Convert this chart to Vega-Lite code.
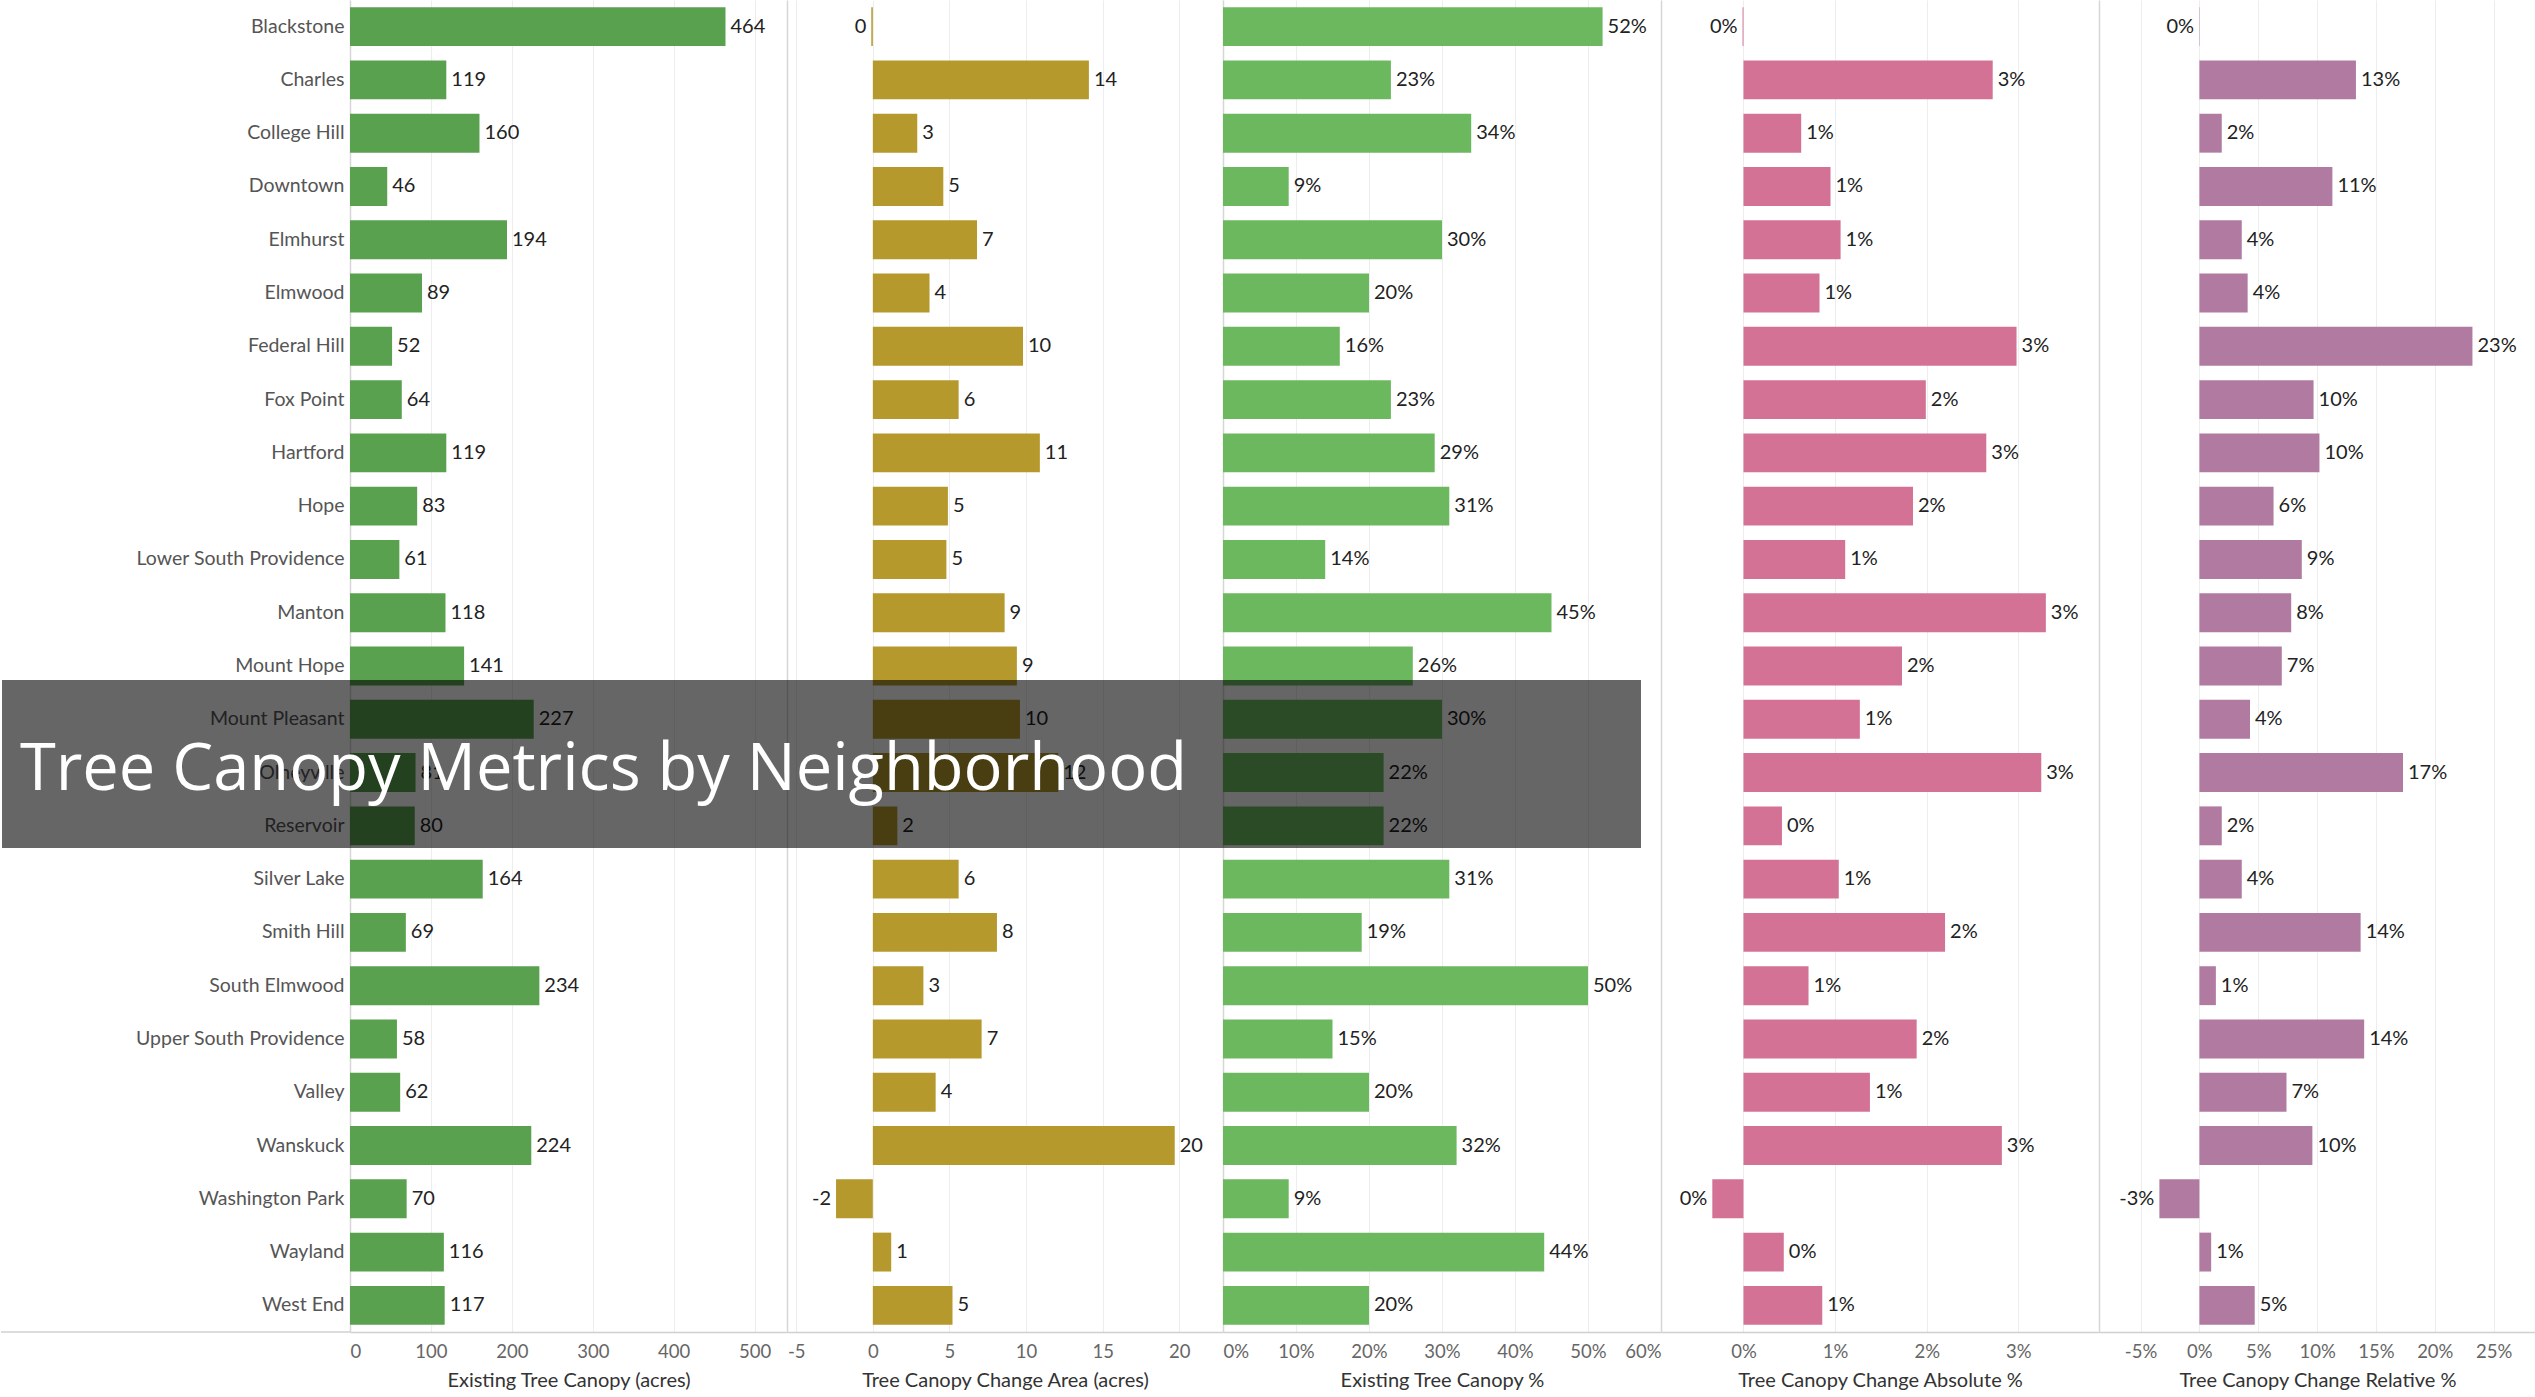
{
  "$schema": "https://vega.github.io/schema/vega-lite/v6.json",
  "background": "white",
  "padding": 0,
  "autosize": {"type": "pad"},
  "bounds": "flush",
  "spacing": 0,
  "config": {
    "view": {"stroke": null},
    "font": "Lato",
    "locale": {"number": {"decimal": ".", "thousands": ",", "grouping": [3], "currency": ["$", ""], "minus": "-"}},
    "axisX": {"orient": "bottom", "grid": true, "gridColor": "#ededed", "gridWidth": 1, "domain": true, "domainColor": "#d0d0d0", "domainWidth": 1.5, "ticks": false, "labelFont": "Lato", "labelFontSize": 18.5, "labelColor": "#666666", "labelPadding": 10, "labelFlush": true, "titleFont": "Lato", "titleFontSize": 20, "titleFontWeight": "normal", "titleColor": "#333333", "titlePadding": 10},
    "axisY": {"grid": false, "ticks": false, "domain": true, "domainColor": "#d6d6d6", "domainWidth": 1.5, "title": null}
  },
  "datasets": {
    "hoods": [
      {"name": "Blackstone", "existing": 464, "changeArea": -0.1, "existingPct": 0.52, "changeAbs": -0.0001, "changeRel": -0.0003},
      {"name": "Charles", "existing": 119, "changeArea": 14.1, "existingPct": 0.23, "changeAbs": 0.0272, "changeRel": 0.133},
      {"name": "College Hill", "existing": 160, "changeArea": 2.9, "existingPct": 0.34, "changeAbs": 0.0063, "changeRel": 0.019},
      {"name": "Downtown", "existing": 46, "changeArea": 4.6, "existingPct": 0.09, "changeAbs": 0.0095, "changeRel": 0.113},
      {"name": "Elmhurst", "existing": 194, "changeArea": 6.8, "existingPct": 0.30, "changeAbs": 0.0106, "changeRel": 0.036},
      {"name": "Elmwood", "existing": 89, "changeArea": 3.7, "existingPct": 0.20, "changeAbs": 0.0083, "changeRel": 0.041},
      {"name": "Federal Hill", "existing": 52, "changeArea": 9.8, "existingPct": 0.16, "changeAbs": 0.0298, "changeRel": 0.232},
      {"name": "Fox Point", "existing": 64, "changeArea": 5.6, "existingPct": 0.23, "changeAbs": 0.0199, "changeRel": 0.097},
      {"name": "Hartford", "existing": 119, "changeArea": 10.9, "existingPct": 0.29, "changeAbs": 0.0265, "changeRel": 0.102},
      {"name": "Hope", "existing": 83, "changeArea": 4.9, "existingPct": 0.31, "changeAbs": 0.0185, "changeRel": 0.063},
      {"name": "Lower South Providence", "existing": 61, "changeArea": 4.8, "existingPct": 0.14, "changeAbs": 0.0111, "changeRel": 0.087},
      {"name": "Manton", "existing": 118, "changeArea": 8.6, "existingPct": 0.45, "changeAbs": 0.0330, "changeRel": 0.078},
      {"name": "Mount Hope", "existing": 141, "changeArea": 9.4, "existingPct": 0.26, "changeAbs": 0.0173, "changeRel": 0.070},
      {"name": "Mount Pleasant", "existing": 227, "changeArea": 9.6, "existingPct": 0.30, "changeAbs": 0.0127, "changeRel": 0.043},
      {"name": "Olneyville", "existing": 81, "changeArea": 12.1, "existingPct": 0.22, "changeAbs": 0.0325, "changeRel": 0.173},
      {"name": "Reservoir", "existing": 80, "changeArea": 1.6, "existingPct": 0.22, "changeAbs": 0.0042, "changeRel": 0.019},
      {"name": "Silver Lake", "existing": 164, "changeArea": 5.6, "existingPct": 0.31, "changeAbs": 0.0104, "changeRel": 0.036},
      {"name": "Smith Hill", "existing": 69, "changeArea": 8.1, "existingPct": 0.19, "changeAbs": 0.0220, "changeRel": 0.137},
      {"name": "South Elmwood", "existing": 234, "changeArea": 3.3, "existingPct": 0.50, "changeAbs": 0.0071, "changeRel": 0.014},
      {"name": "Upper South Providence", "existing": 58, "changeArea": 7.1, "existingPct": 0.15, "changeAbs": 0.0189, "changeRel": 0.140},
      {"name": "Valley", "existing": 62, "changeArea": 4.1, "existingPct": 0.20, "changeAbs": 0.0138, "changeRel": 0.074},
      {"name": "Wanskuck", "existing": 224, "changeArea": 19.7, "existingPct": 0.32, "changeAbs": 0.0282, "changeRel": 0.096},
      {"name": "Washington Park", "existing": 70, "changeArea": -2.4, "existingPct": 0.09, "changeAbs": -0.0034, "changeRel": -0.034},
      {"name": "Wayland", "existing": 116, "changeArea": 1.2, "existingPct": 0.44, "changeAbs": 0.0044, "changeRel": 0.010},
      {"name": "West End", "existing": 117, "changeArea": 5.2, "existingPct": 0.20, "changeAbs": 0.0086, "changeRel": 0.047}
    ]
  },
  "hconcat": [
    {
      "width": 437, "height": 1332,
      "data": {"name": "hoods"},
      "encoding": {"y": {"field": "name", "type": "nominal", "scale": {"paddingInner": 0.27, "paddingOuter": 0.135}, "axis": {"labels": true, "labelFont": "Lato", "labelFontSize": 19.5, "labelColor": "#555555", "labelPadding": 6, "labelLimit": 400}}},
      "layer": [
        {"mark": {"type": "bar", "color": "#59a14f"}, "encoding": {"x": {"field": "existing", "type": "quantitative", "scale": {"domain": [0, 540], "nice": false}, "axis": {"values": [0, 100, 200, 300, 400, 500], "format": "d", "title": "Existing Tree Canopy (acres)"}}}},
        {"mark": {"type": "text", "align": "left", "baseline": "middle", "dx": 5, "fontSize": 20, "color": "#222222", "font": "Lato"}, "encoding": {"x": {"field": "existing", "type": "quantitative"}, "text": {"field": "existing", "type": "quantitative", "format": "d"}}},
        {"data": {"values": [{}]}, "mark": {"type": "rule", "color": "#d0d0d0", "strokeWidth": 1.5}, "encoding": {"x": {"datum": -431.3, "type": "quantitative"}, "x2": {"datum": 0}, "y": {"datum": "West End", "type": "nominal", "bandPosition": 1.185}}}
      ]
    },
    {
      "width": 436, "height": 1332,
      "data": {"name": "hoods"},
      "encoding": {"y": {"field": "name", "type": "nominal", "scale": {"paddingInner": 0.27, "paddingOuter": 0.135}, "axis": {"labels": false}}},
      "layer": [
        {"mark": {"type": "bar", "color": "#b6992d"}, "encoding": {"x": {"field": "changeArea", "type": "quantitative", "scale": {"domain": [-5.6, 22.85], "nice": false}, "axis": {"values": [-5, 0, 5, 10, 15, 20], "format": "d", "title": "Tree Canopy Change Area (acres)"}}}},
        {"transform": [{"filter": "datum.changeArea >= 0"}], "mark": {"type": "text", "align": "left", "baseline": "middle", "dx": 5, "fontSize": 20, "color": "#222222", "font": "Lato"}, "encoding": {"x": {"field": "changeArea", "type": "quantitative"}, "text": {"field": "changeArea", "type": "quantitative", "format": ".0f"}}},
        {"transform": [{"filter": "datum.changeArea < 0"}], "mark": {"type": "text", "align": "right", "baseline": "middle", "dx": -5, "fontSize": 20, "color": "#222222", "font": "Lato"}, "encoding": {"x": {"field": "changeArea", "type": "quantitative"}, "text": {"field": "changeArea", "type": "quantitative", "format": ".0f"}}}
      ]
    },
    {
      "width": 438, "height": 1332,
      "data": {"name": "hoods"},
      "encoding": {"y": {"field": "name", "type": "nominal", "scale": {"paddingInner": 0.27, "paddingOuter": 0.135}, "axis": {"labels": false}}},
      "layer": [
        {"mark": {"type": "bar", "color": "#6cb85f"}, "encoding": {"x": {"field": "existingPct", "type": "quantitative", "scale": {"domain": [0, 0.6], "nice": false}, "axis": {"values": [0, 0.1, 0.2, 0.3, 0.4, 0.5, 0.6], "format": ".0%", "title": "Existing Tree Canopy %"}}}},
        {"mark": {"type": "text", "align": "left", "baseline": "middle", "dx": 5, "fontSize": 20, "color": "#222222", "font": "Lato"}, "encoding": {"x": {"field": "existingPct", "type": "quantitative"}, "text": {"field": "existingPct", "type": "quantitative", "format": ".0%"}}},
        {"data": {"values": [{}]}, "mark": {"type": "rect", "color": "#000000", "opacity": 0.6}, "encoding": {"x": {"datum": -1.6726, "type": "quantitative"}, "x2": {"datum": 0.5726}, "y": {"datum": "Mount Hope", "type": "nominal", "bandPosition": 0.86}, "y2": {"datum": "Reservoir", "bandPosition": 1.07}}},
        {"data": {"values": [{}]}, "mark": {"type": "text", "align": "left", "baseline": "alphabetic", "font": "Open Sans", "fontSize": 65, "color": "#ffffff"}, "encoding": {"x": {"datum": -1.648, "type": "quantitative"}, "y": {"datum": "Olneyville", "type": "nominal", "bandPosition": 0.95}, "text": {"value": "Tree Canopy Metrics by Neighborhood"}}}
      ]
    },
    {
      "width": 438, "height": 1332,
      "data": {"name": "hoods"},
      "encoding": {"y": {"field": "name", "type": "nominal", "scale": {"paddingInner": 0.27, "paddingOuter": 0.135}, "axis": {"labels": false}}},
      "layer": [
        {"mark": {"type": "bar", "color": "#d37295"}, "encoding": {"x": {"field": "changeAbs", "type": "quantitative", "scale": {"domain": [-0.009, 0.0388], "nice": false}, "axis": {"values": [0, 0.01, 0.02, 0.03], "format": ".0%", "title": "Tree Canopy Change Absolute %"}}}},
        {"transform": [{"filter": "datum.changeAbs >= 0"}], "mark": {"type": "text", "align": "left", "baseline": "middle", "dx": 5, "fontSize": 20, "color": "#222222", "font": "Lato"}, "encoding": {"x": {"field": "changeAbs", "type": "quantitative"}, "text": {"field": "changeAbs", "type": "quantitative", "format": ".0%"}}},
        {"transform": [{"filter": "datum.changeAbs < 0"}], "mark": {"type": "text", "align": "right", "baseline": "middle", "dx": -5, "fontSize": 20, "color": "#222222", "font": "Lato"}, "encoding": {"x": {"field": "changeAbs", "type": "quantitative"}, "text": {"field": "changeAbs", "type": "quantitative", "format": ".0%"}}}
      ]
    },
    {
      "width": 437, "height": 1332,
      "data": {"name": "hoods"},
      "encoding": {"y": {"field": "name", "type": "nominal", "scale": {"paddingInner": 0.27, "paddingOuter": 0.135}, "axis": {"labels": false}}},
      "layer": [
        {"mark": {"type": "bar", "color": "#b07aa1"}, "encoding": {"x": {"field": "changeRel", "type": "quantitative", "scale": {"domain": [-0.0853, 0.286], "nice": false}, "axis": {"values": [-0.05, 0, 0.05, 0.1, 0.15, 0.2, 0.25], "format": ".0%", "title": "Tree Canopy Change Relative %"}}}},
        {"transform": [{"filter": "datum.changeRel >= 0"}], "mark": {"type": "text", "align": "left", "baseline": "middle", "dx": 5, "fontSize": 20, "color": "#222222", "font": "Lato"}, "encoding": {"x": {"field": "changeRel", "type": "quantitative"}, "text": {"field": "changeRel", "type": "quantitative", "format": ".0%"}}},
        {"transform": [{"filter": "datum.changeRel < 0"}], "mark": {"type": "text", "align": "right", "baseline": "middle", "dx": -5, "fontSize": 20, "color": "#222222", "font": "Lato"}, "encoding": {"x": {"field": "changeRel", "type": "quantitative"}, "text": {"field": "changeRel", "type": "quantitative", "format": ".0%"}}}
      ]
    }
  ]
}
